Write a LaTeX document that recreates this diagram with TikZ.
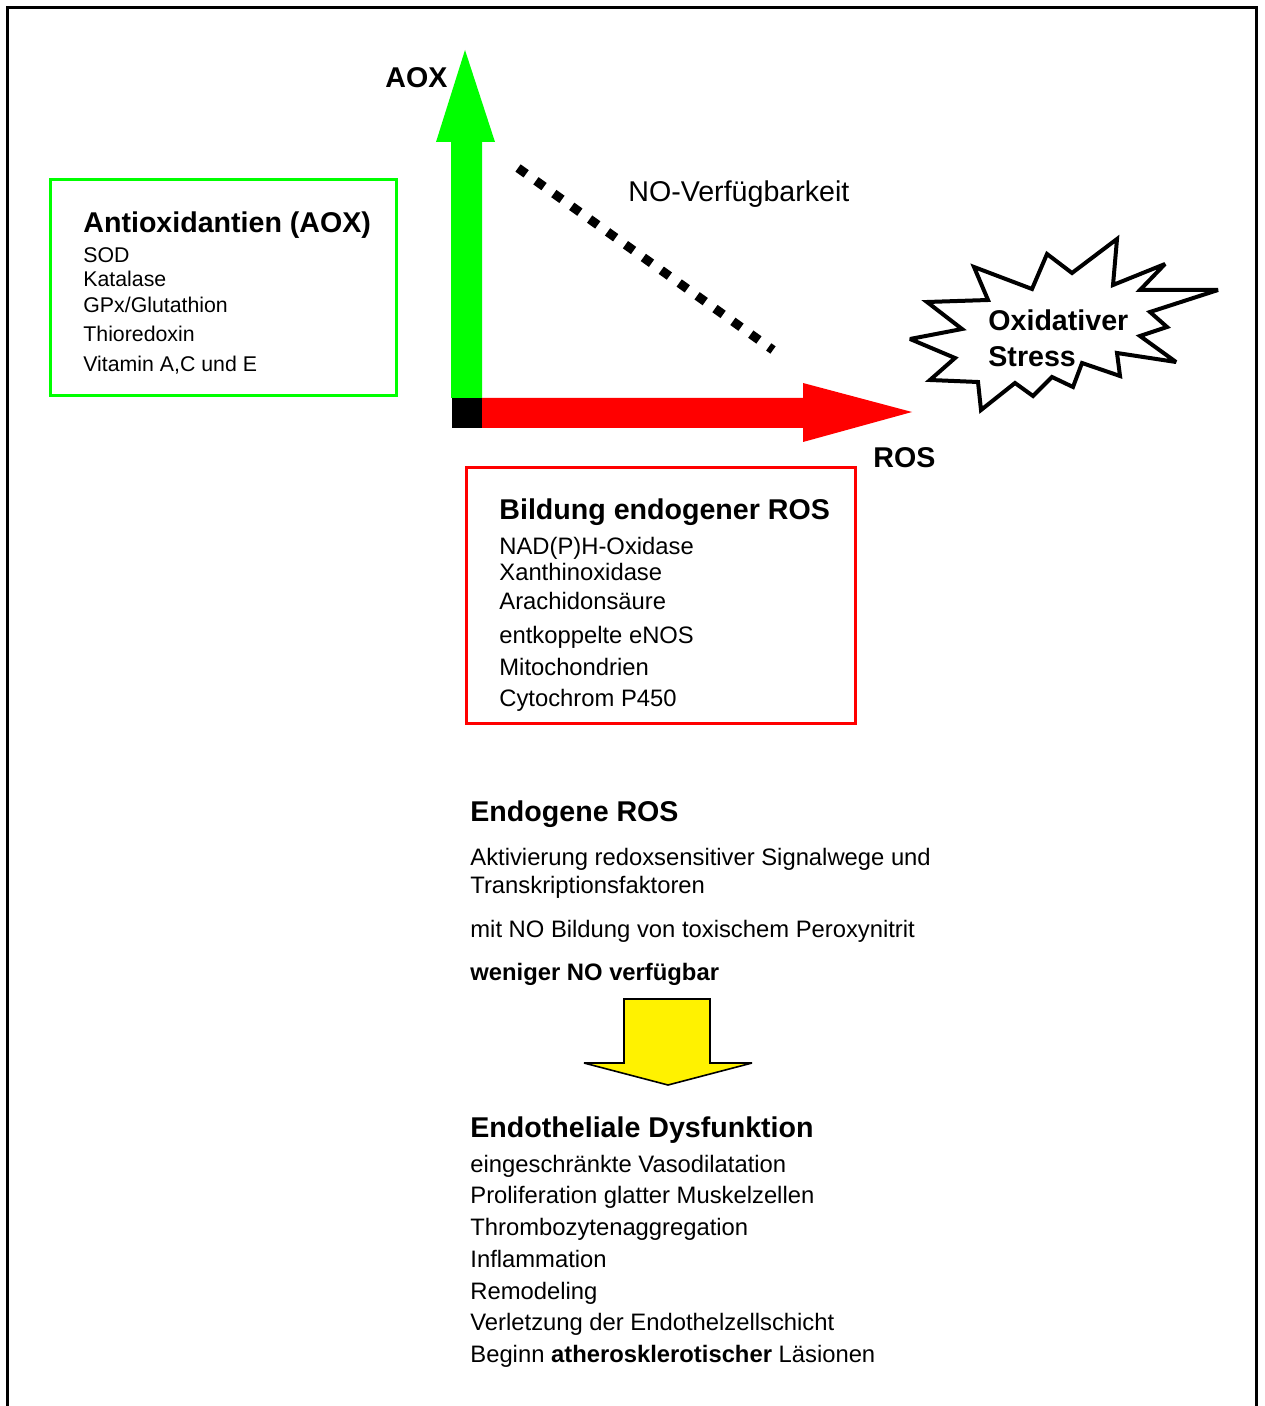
\documentclass[tikz,border=0pt]{standalone}
\usepackage{fontspec}
\setmainfont{Liberation Sans}

\begin{document}
\begin{tikzpicture}
  [x=0.5pt,y=-0.5pt,
   every node/.style={inner sep=0pt,anchor=base west},
   head/.style={font=\fontsize{14.3}{17}\selectfont\bfseries},
   small/.style={font=\fontsize{10.65}{13}\selectfont},
   body/.style={font=\fontsize{11.9}{14}\selectfont},
   boldbody/.style={font=\fontsize{11.9}{14}\selectfont\bfseries},
   aoxframe/.style={draw=green,line width=1.5pt},
   rosframe/.style={draw=red,line width=1.5pt},
   burst/.style={draw=black,fill=white,line width=2pt,miter limit=3}]
  \useasboundingbox (0,0) rectangle (1264,1406);

  % frame, open at the bottom
  \draw[line width=1.5pt] (7.5,1420) -- (7.5,8) -- (1256,8) -- (1256,1420);

  % axes
  \fill[green] (451,398) -- (451,142) -- (436,142) -- (465,50) -- (495,142)
    -- (482,142) -- (482,398) -- cycle;
  \fill[red] (482,398) -- (803,398) -- (803,383) -- (912,412) -- (803,442)
    -- (803,428) -- (482,428) -- cycle;
  \fill[black] (452,398) rectangle (482,428);
  \coordinate (dotA) at (518,168);
  \coordinate (dotB) at (773,350);
  \draw[line width=4.5pt,dash pattern=on 5pt off 6pt] (dotA) -- (dotB);

  \node[head] (aox) at (385,88) {AOX};
  \node[head] (ros) at (873,467) {ROS};
  \node[head,font=\fontsize{14.3}{17}\selectfont] (noverf) at (628,202) {NO-Verfügbarkeit};

  % starburst
  \draw[burst] (910,339) -- (962,329) -- (927,302) -- (988,300) -- (974,267)
    -- (1032,289) -- (1047,254) -- (1072,273) -- (1117,239) -- (1113,285)
    -- (1165,264) -- (1140,290) -- (1218,290) -- (1150,312) -- (1167,327)
    -- (1140,336) -- (1176,362) -- (1117,353) -- (1120,376) -- (1082,363)
    -- (1073,387) -- (1052,377) -- (1033,396) -- (1015,383) -- (981,410)
    -- (978,382) -- (930,380) -- (955,358) -- cycle;
  \node[head] (oxid) at (988,331) {Oxidativer};
  \node[head] (stress) at (988,367) {Stress};

  % Antioxidantien
  \draw[aoxframe] (50,180) rectangle (396,396);
  \node[head] (aoxtitle) at (83,233) {Antioxidantien (AOX)};
  \foreach \y/\txt [count=\i] in {263/SOD,287/Katalase,313/{GPx/Glutathion},
      342/Thioredoxin,372/{Vitamin A,C und E}}
    \node[small] (aox\i) at (83,\y) {\txt};

  % Bildung endogener ROS
  \draw[rosframe] (466,467) rectangle (855,723);
  \node[head] (rostitle) at (499,519) {Bildung endogener ROS};
  \foreach \y/\txt [count=\i] in {554/{NAD(P)H-Oxidase},580/Xanthinoxidase,
      609/Arachidonsäure,643/entkoppelte eNOS,675/Mitochondrien,706/Cytochrom P450}
    \node[body] (ros\i) at (499,\y) {\txt};

  % Endogene ROS
  \node[head] (endo) at (470,821) {Endogene ROS};
  \node[body] (endo1) at (470,865) {Aktivierung redoxsensitiver Signalwege und};
  \node[body] (endo2) at (470,893) {Transkriptionsfaktoren};
  \node[body] (endo3) at (470,937) {mit NO Bildung von toxischem Peroxynitrit};
  \node[boldbody] (endo4) at (470,980) {weniger NO verfügbar};

  % yellow arrow
  \draw[fill=yellow,line width=0.8pt,miter limit=3] (624,999) -- (710,999) -- (710,1063)
    -- (752,1063) -- (668,1085) -- (584,1063) -- (624,1063) -- cycle;

  % Endotheliale Dysfunktion
  \node[head] (dysf) at (470,1137) {Endotheliale Dysfunktion};
  \foreach \y/\txt [count=\i] in {1172/eingeschränkte Vasodilatation,
      1203/Proliferation glatter Muskelzellen,1235/Thrombozytenaggregation,
      1267/Inflammation,1299/Remodeling,1330/Verletzung der Endothelzellschicht,
      1362/{Beginn \textbf{atherosklerotischer} Läsionen}}
    \node[body] (dysf\i) at (470,\y) {\txt};
\end{tikzpicture}
\end{document}
